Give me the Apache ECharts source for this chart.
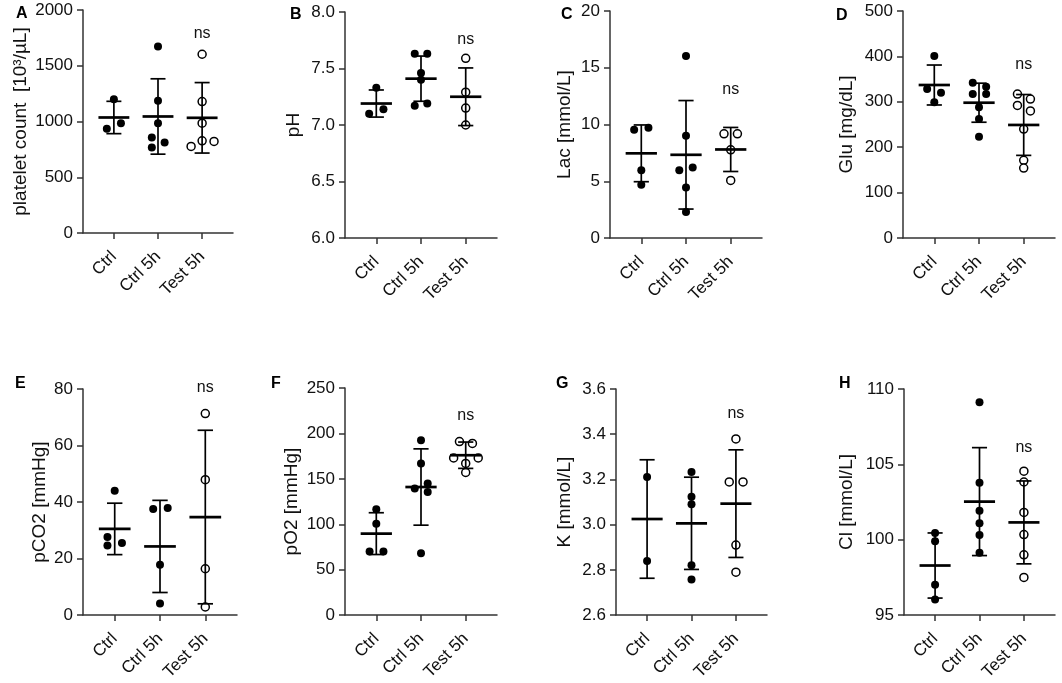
<!DOCTYPE html>
<html>
<head>
<meta charset="utf-8">
<script src="https://cdn.jsdelivr.net/npm/echarts@6/dist/echarts.min.js"></script>
<style>
html, body { margin: 0; padding: 0; background: #fff; }
#main { width: 1062px; height: 683px; }
</style>
</head>
<body>
<div id="main"></div>
<script>
var groups = ['Ctrl', 'Ctrl 5h', 'Test 5h'];

// A - platelet count
var pltValues = [[1200, 934, 985], [1672, 1185, 985, 857, 767, 812], [1603, 1179, 985, 827, 776, 821]];
var pltJitter = [[0, -0.16, 0.16], [0, 0, 0, -0.14, -0.14, 0.15], [0, 0, 0, 0, -0.25, 0.27]];
var pltMean = [1036, 1045, 1033];
var pltSD = [145, 338, 316];
var pltNs = 1791;

// B - pH
var phValues = [[7.33, 7.10, 7.14], [7.63, 7.63, 7.46, 7.40, 7.17, 7.19], [7.59, 7.29, 7.15, 7.00]];
var phJitter = [[0, -0.16, 0.16], [-0.14, 0.14, 0, 0, -0.14, 0.14], [0, 0, 0, 0]];
var phMean = [7.19, 7.41, 7.25];
var phSD = [0.12, 0.20, 0.255];
var phNs = 7.76;

// C - lactate
var lacValues = [[9.53, 9.71, 5.98, 4.69], [16.04, 9.0, 5.98, 6.22, 4.46, 2.29], [9.18, 9.18, 7.77, 5.07]];
var lacJitter = [[-0.16, 0.16, 0, 0], [0, 0, -0.15, 0.15, 0, 0], [-0.15, 0.15, 0, 0]];
var lacMean = [7.46, 7.33, 7.8];
var lacSD = [2.5, 4.78, 1.94];
var lacNs = 13.05;

// D - glucose
var gluValues = [[401, 328, 320, 299], [342, 333, 317, 317, 288, 262, 223], [317, 306, 292, 280, 240, 171, 154]];
var gluJitter = [[0, -0.16, 0.15, 0], [-0.14, 0.16, -0.14, 0.16, 0, 0, 0], [-0.14, 0.15, -0.14, 0.15, 0, 0, 0]];
var gluMean = [337, 298, 249];
var gluSD = [44, 43, 67];
var gluNs = 381;

// E - pCO2
var pco2Values = [[44, 27.6, 24.6, 25.5], [37.5, 37.9, 17.8, 4.1], [71.3, 47.9, 16.4, 2.9]];
var pco2Jitter = [[0, -0.16, -0.16, 0.16], [-0.15, 0.17, 0, 0], [0, 0, 0, 0]];
var pco2Mean = [30.5, 24.3, 34.7];
var pco2SD = [9.1, 16.3, 30.7];
var pco2Ns = 80.6;

// F - pO2
var po2Values = [[116.4, 100.7, 70, 70], [192.5, 167, 139.5, 145, 135.4, 68], [191, 189, 173, 173, 167, 157]];
var po2Jitter = [[0, 0, -0.15, 0.16], [0, 0, -0.14, 0.15, 0.15, 0], [-0.14, 0.15, -0.27, 0.28, 0, 0]];
var po2Mean = [89.7, 141, 176];
var po2SD = [23, 42, 14.5];
var po2Ns = 219.6;

// G - potassium
var kValues = [[3.211, 2.839], [3.233, 3.124, 3.090, 2.820, 2.758], [3.379, 3.189, 3.189, 2.910, 2.790]];
var kJitter = [[0, 0], [0, 0, 0, 0, 0], [0, -0.15, 0.16, 0, 0]];
var kMean = [3.025, 3.006, 3.093];
var kSD = [0.262, 0.204, 0.238];
var kNs = 3.49;

// H - chloride
var clValues = [[100.45, 99.9, 97.02, 96.03], [109.12, 103.78, 101.92, 101.1, 100.31, 99.13], [104.55, 103.83, 101.81, 100.34, 99.0, 97.5]];
var clJitter = [[0, 0, 0, 0], [0, 0, 0, 0, 0, 0], [0, 0, 0, 0, 0, 0]];
var clMean = [98.29, 102.53, 101.15];
var clSD = [2.16, 3.58, 2.75];
var clNs = 106.1;

var FONT = '"Liberation Sans", Arial, sans-serif';
var INK = '#111';
var AXIS = '#333';

// panel layout (pixels) + axis ranges
var panels = [
    { letter: 'A', name: 'platelet count  [10³/µL]', v: pltValues, j: pltJitter, m: pltMean, sd: pltSD, ns: pltNs,
      min: 0, max: 2000, step: 500, dec: 0, grid: [83, 10, 150, 223], gap: 53, lx: 16, ly: 6 },
    { letter: 'B', name: 'pH', v: phValues, j: phJitter, m: phMean, sd: phSD, ns: phNs,
      min: 6, max: 8, step: 0.5, dec: 1, grid: [345, 12, 152, 226], gap: 42, lx: 290, ly: 7 },
    { letter: 'C', name: 'Lac [mmol/L]', v: lacValues, j: lacJitter, m: lacMean, sd: lacSD, ns: lacNs,
      min: 0, max: 20, step: 5, dec: 0, grid: [610, 11, 152, 227], gap: 36, lx: 561, ly: 7 },
    { letter: 'D', name: 'Glu [mg/dL]', v: gluValues, j: gluJitter, m: gluMean, sd: gluSD, ns: gluNs,
      min: 0, max: 500, step: 100, dec: 0, grid: [903, 11, 152, 227], gap: 47, lx: 836, ly: 8 },
    { letter: 'E', name: 'pCO2 [mmHg]', v: pco2Values, j: pco2Jitter, m: pco2Mean, sd: pco2SD, ns: pco2Ns,
      min: 0, max: 80, step: 20, dec: 0, grid: [83, 389, 154, 228], gap: 34, lx: 15, ly: 376 },
    { letter: 'F', name: 'pO2 [mmHg]', v: po2Values, j: po2Jitter, m: po2Mean, sd: po2SD, ns: po2Ns,
      min: 0, max: 250, step: 50, dec: 0, grid: [345, 388, 152, 228], gap: 44, lx: 271, ly: 376 },
    { letter: 'G', name: 'K [mmol/L]', v: kValues, j: kJitter, m: kMean, sd: kSD, ns: kNs,
      min: 2.6, max: 3.6, step: 0.2, dec: 1, grid: [616, 389, 151, 228], gap: 42, lx: 556, ly: 376 },
    { letter: 'H', name: 'Cl [mmol/L]', v: clValues, j: clJitter, m: clMean, sd: clSD, ns: clNs,
      min: 95, max: 110, step: 5, dec: 0, grid: [904, 389, 151, 228], gap: 48, lx: 839, ly: 376 }
];

// mean line + SD error bar
function renderMeanSD(params, api) {
    var x = api.value(0), m = api.value(1), sd = api.value(2);
    var c = api.coord([x, m]);
    var top = api.coord([x, m + sd]);
    var bot = api.coord([x, m - sd]);
    var halfMean = api.size([0.35, 0])[0];
    var halfCap = api.size([0.17, 0])[0];
    var bar = { stroke: '#000', lineWidth: 1.7 };
    return {
        type: 'group',
        children: [
            { type: 'line', shape: { x1: c[0], y1: top[1], x2: c[0], y2: bot[1] }, style: bar },
            { type: 'line', shape: { x1: c[0] - halfCap, y1: top[1], x2: c[0] + halfCap, y2: top[1] }, style: bar },
            { type: 'line', shape: { x1: c[0] - halfCap, y1: bot[1], x2: c[0] + halfCap, y2: bot[1] }, style: bar },
            { type: 'line', shape: { x1: c[0] - halfMean, y1: c[1], x2: c[0] + halfMean, y2: c[1] },
              style: { stroke: '#000', lineWidth: 2.7 } }
        ]
    };
}

function renderNs(params, api) {
    var p = api.coord([api.value(0), api.value(1)]);
    return {
        type: 'text', x: p[0], y: p[1],
        style: { text: 'ns', fill: INK, font: '16px ' + FONT, align: 'center', verticalAlign: 'middle' }
    };
}

var option = {
    animation: false,
    backgroundColor: '#fff',
    textStyle: { fontFamily: FONT },
    title: [], grid: [], xAxis: [], yAxis: [], series: []
};

panels.forEach(function(p, i) {
    option.title.push({
        text: p.letter, left: p.lx, top: p.ly, padding: 0,
        textStyle: { fontSize: 16, fontWeight: 'bold', color: '#000', fontFamily: FONT }
    });
    option.grid.push({ left: p.grid[0], top: p.grid[1], width: p.grid[2], height: p.grid[3], containLabel: false });
    option.xAxis.push({
        gridIndex: i, type: 'value', min: -0.7, max: 2.7,
        axisLine: { show: true, onZero: false, lineStyle: { color: AXIS, width: 1.5 } },
        axisTick: { show: true, customValues: [0, 1, 2], length: 6, lineStyle: { color: AXIS, width: 1.5 } },
        axisLabel: {
            customValues: [0, 1, 2], rotate: 45, margin: 21, fontSize: 17, color: INK,
            formatter: function(v) { return groups[Math.round(v)]; }
        },
        splitLine: { show: false }
    });
    option.yAxis.push({
        gridIndex: i, type: 'value', min: p.min, max: p.max, interval: p.step,
        name: p.name, nameLocation: 'middle', nameGap: p.gap,
        nameTextStyle: { fontSize: 19, color: INK },
        axisLine: { show: true, onZero: false, lineStyle: { color: AXIS, width: 1.5 } },
        axisTick: { show: true, length: 6, lineStyle: { color: AXIS, width: 1.5 } },
        axisLabel: {
            fontSize: 17, color: INK, margin: 10,
            formatter: function(v) { return v.toFixed(p.dec); }
        },
        splitLine: { show: false }
    });

    // dots: filled for Ctrl / Ctrl 5h, open for Test 5h
    var filled = [], open = [];
    p.v.forEach(function(vals, g) {
        vals.forEach(function(val, k) {
            var pt = [g + p.j[g][k], val];
            if (g < 2) filled.push(pt); else open.push(pt);
        });
    });
    option.series.push({
        type: 'scatter', xAxisIndex: i, yAxisIndex: i, data: filled,
        symbol: 'circle', symbolSize: 8, itemStyle: { color: '#000', opacity: 1 }, z: 2
    });
    option.series.push({
        type: 'scatter', xAxisIndex: i, yAxisIndex: i, data: open,
        symbol: 'circle', symbolSize: 8,
        itemStyle: { color: '#fff', borderColor: '#000', borderWidth: 1.5, opacity: 1 }, z: 2
    });
    option.series.push({
        type: 'custom', xAxisIndex: i, yAxisIndex: i, renderItem: renderMeanSD, z: 3,
        data: p.m.map(function(m, g) { return [g, m, p.sd[g]]; })
    });
    option.series.push({
        type: 'custom', xAxisIndex: i, yAxisIndex: i, renderItem: renderNs, z: 3,
        data: [[2, p.ns]]
    });
});

var myChart = echarts.init(document.getElementById('main'));
myChart.setOption(option);
</script>
</body>
</html>
